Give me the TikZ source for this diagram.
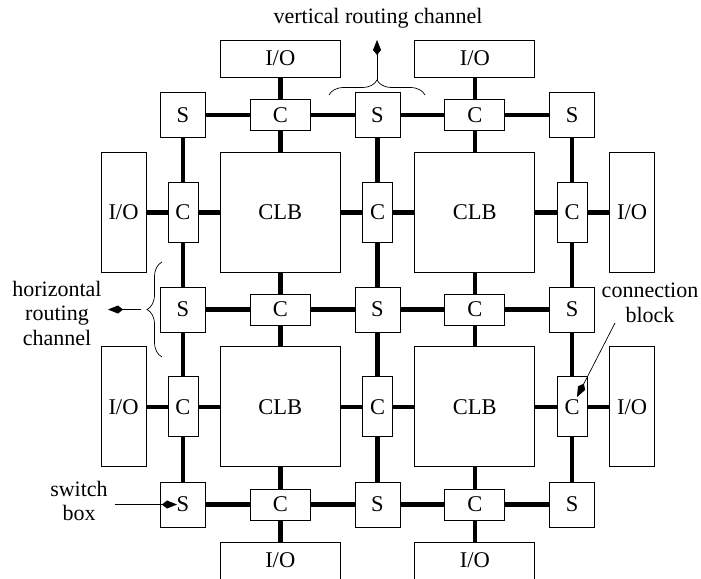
\documentclass[tikz,border=0pt]{standalone}
\usepackage{fontspec}
\setmainfont{Liberation Serif}
\usetikzlibrary{arrows.meta,decorations.pathreplacing}
\begin{document}
\begin{tikzpicture}[x=1pt,y=-1pt,
  box/.style={draw=black,line width=0.9pt,fill=white,inner sep=0pt,font=\fontsize{22.5}{24.5}\selectfont},
  sbox/.style={box,minimum width=45pt,minimum height=45pt},
  chbox/.style={box,minimum width=60pt,minimum height=31pt},
  cvbox/.style={box,minimum width=30pt,minimum height=60pt},
  clb/.style={box,minimum width=120pt,minimum height=120pt},
  iov/.style={box,minimum width=45pt,minimum height=120pt},
  ioh/.style={box,minimum width=120pt,minimum height=37pt},
  wire/.style={line width=4.5pt},
  lbl/.style={font=\fontsize{22}{24.5}\selectfont,align=center,inner sep=0pt},
  ptr/.style={line width=0.7pt,-{Kite[length=15pt,width=8pt,inset=5pt]}},
  brc/.style={line width=0.7pt,decorate,decoration={brace,amplitude=15pt}}
]
\useasboundingbox (0,0) rectangle (701,578);

% switch boxes
\foreach \r/\y in {1/115,2/309.5,3/504.5}{
  \foreach \c/\x in {1/183,2/377.5,3/572}{
    \node[sbox] (s\r\c) at (\x,\y) {S};
  }
  % horizontal connection blocks
  \foreach \c/\x in {1/280.25,2/474.75}{
    \node[chbox] (h\r\c) at (\x,\y) {C};
  }
}
% vertical connection blocks, CLBs
\foreach \r/\y in {1/212.25,2/406.75}{
  \foreach \c/\x in {1/183,2/377.5,3/572}{
    \node[cvbox] (v\r\c) at (\x,\y) {C};
  }
  \foreach \c/\x in {1/280.25,2/474.75}{
    \node[clb] (b\r\c) at (\x,\y) {CLB};
  }
  \node[iov] (l\r) at (123.5,\y) {I/O};
  \node[iov] (q\r) at (632,\y) {I/O};
}
% top and bottom I/O
\foreach \c/\x in {1/280.25,2/474.75}{
  \node[ioh] (t\c) at (\x,58.5) {I/O};
  \node[ioh] (u\c) at (\x,560.5) {I/O};
}

% wires along switch rows
\foreach \r in {1,2,3}{
  \draw[wire] (s\r1) -- (h\r1);
  \draw[wire] (h\r1) -- (s\r2);
  \draw[wire] (s\r2) -- (h\r2);
  \draw[wire] (h\r2) -- (s\r3);
}
% wires along columns
\foreach \c in {1,2,3}{
  \draw[wire] (s1\c) -- (v1\c);
  \draw[wire] (v1\c) -- (s2\c);
  \draw[wire] (s2\c) -- (v2\c);
  \draw[wire] (v2\c) -- (s3\c);
}
% horizontal links through CLB rows
\foreach \r in {1,2}{
  \draw[wire] (l\r) -- (v\r1);
  \draw[wire] (v\r1) -- (b\r1);
  \draw[wire] (b\r1) -- (v\r2);
  \draw[wire] (v\r2) -- (b\r2);
  \draw[wire] (b\r2) -- (v\r3);
  \draw[wire] (v\r3) -- (q\r);
}
% vertical links through CLB columns
\foreach \c in {1,2}{
  \draw[wire] (t\c) -- (h1\c);
  \draw[wire] (h1\c) -- (b1\c);
  \draw[wire] (b1\c) -- (h2\c);
  \draw[wire] (h2\c) -- (b2\c);
  \draw[wire] (b2\c) -- (h3\c);
  \draw[wire] (h3\c) -- (u\c);
}

% labels
\node[lbl,anchor=base] (vrc) at (378,24) {vertical routing channel};
\node[lbl] (hrc) at (57,313) {horizontal\\routing\\channel};
\node[lbl] (cbl) at (650,303) {connection\\block};
\node[lbl] (swb) at (79,501) {switch\\box};

% braces and pointers
\draw[brc] (329,95) -- (425,95);
\coordinate (vtip) at (377,80);
\coordinate (vend) at (377,40);
\draw[ptr] (vtip) -- (vend);

\draw[brc] (162,357) -- (162,262);
\coordinate (htip) at (141,309.5);
\coordinate (hend) at (108,309.5);
\draw[ptr] (htip) -- (hend);

\coordinate (cbs) at (615,323);
\coordinate (cbe) at (577,397);
\draw[ptr] (cbs) -- (cbe);

\coordinate (sws) at (115,504.5);
\coordinate (swe) at (177,504.5);
\draw[ptr] (sws) -- (swe);
\end{tikzpicture}
\end{document}
